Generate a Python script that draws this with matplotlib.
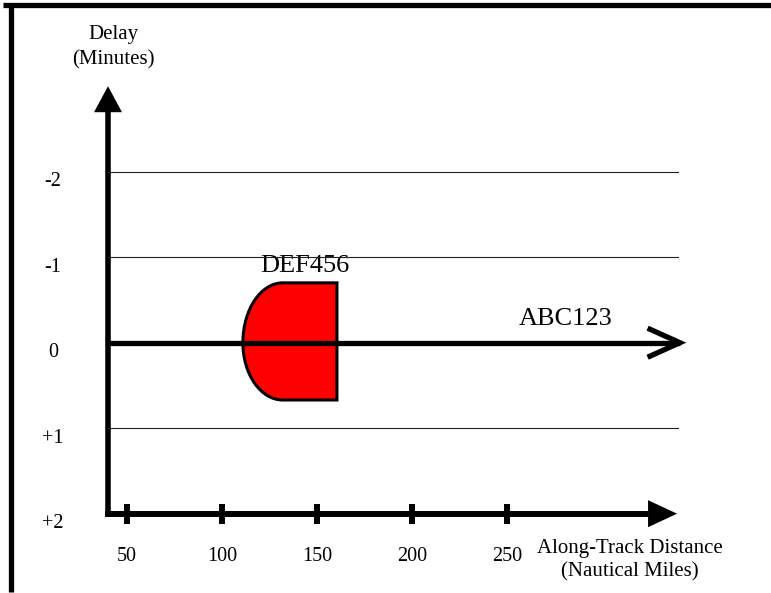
import matplotlib
matplotlib.use('Agg')
import matplotlib.pyplot as plt
from matplotlib.path import Path
from matplotlib.patches import PathPatch
from matplotlib.lines import Line2D

# ---- data ----
delay_ticks = [-2, -1, 0, 1, 2]
delay_labels = ['-2', '-1', '0', '+1', '+2']
grid_delays = [-2, -1, 1]
distance_ticks = [50, 100, 150, 200, 250]
distance_labels = ['50', '100', '150', '200', '250']

ownship = 'ABC123'
ownship_delay = 0

intruder = 'DEF456'
conflict_start = 111.0     # nm, leftmost point of the rounded edge
conflict_round = 132.0     # nm, where the rounded edge meets the flat top/bottom
conflict_end = 160.5       # nm
conflict_early = -0.70     # min
conflict_late = 0.67       # min

# ---- layout (pixel scale of the picture) ----
PX_NM = 1.9
PX_MIN = 85.5
X0_PX = 32.0
Y0_PX = 342.7
W, H = 771, 593

axis_nm = 40.0
axis_delay = 2.0
track_end = 341.0
xarrow_tip = 339.5
yarrow_tip = -3.0

plt.rcParams['font.family'] = ['Liberation Serif', 'DejaVu Serif']

fig = plt.figure(figsize=(W / 100, H / 100), dpi=100)
ax = fig.add_axes([0, 0, 1, 1])
ax.set_xlim(-X0_PX / PX_NM, (W - X0_PX) / PX_NM)
ax.set_ylim((H - Y0_PX) / PX_MIN, -Y0_PX / PX_MIN)
ax.axis('off')

# frame lines of the original figure (top and left only)
fig.add_artist(Line2D([3 / W, 1], [1 - 5 / H, 1 - 5 / H], color='k', lw=3.8,
                      transform=fig.transFigure, solid_capstyle='butt'))
fig.add_artist(Line2D([10.5 / W, 10.5 / W], [1 - 3 / H, 1 - 592 / H], color='k', lw=3.8,
                      transform=fig.transFigure, solid_capstyle='butt'))

# horizontal delay grid lines
for d in grid_delays:
    ax.plot([axis_nm, track_end - 1], [d, d], color='#222222', lw=0.8, zorder=5)

# conflict region (intruder)
k = 0.5523
rx = conflict_round - conflict_start
verts = [
    (conflict_end, conflict_early),
    (conflict_round, conflict_early),
    (conflict_round - k * rx, conflict_early),
    (conflict_start, k * conflict_early),
    (conflict_start, 0),
    (conflict_start, k * conflict_late),
    (conflict_round - k * rx, conflict_late),
    (conflict_round, conflict_late),
    (conflict_end, conflict_late),
    (conflict_end, conflict_early),
]
codes = [Path.MOVETO, Path.LINETO, Path.CURVE4, Path.CURVE4, Path.CURVE4,
         Path.CURVE4, Path.CURVE4, Path.CURVE4, Path.LINETO, Path.CLOSEPOLY]
ax.add_patch(PathPatch(Path(verts, codes), facecolor='#ff0000', edgecolor='k',
                       lw=2.2, zorder=2, joinstyle='miter'))

# ownship track with open arrow head
ax.plot([axis_nm, track_end], [ownship_delay, ownship_delay], color='k', lw=3.8,
        solid_capstyle='butt', zorder=3)
arm_nm = 17.0
arm_min = 0.17
ax.plot([track_end - arm_nm, track_end, track_end - arm_nm],
        [ownship_delay - arm_min, ownship_delay, ownship_delay + arm_min],
        color='k', lw=3.8, solid_capstyle='butt', solid_joinstyle='miter', zorder=3)

# y axis (delay) with filled head
yhead_len = 26 / PX_MIN
yhead_half = 14 / PX_NM
ax.plot([axis_nm, axis_nm], [axis_delay + 3 / PX_MIN, yarrow_tip + yhead_len],
        color='k', lw=4.0, solid_capstyle='butt', zorder=3)
ax.fill([axis_nm - yhead_half, axis_nm, axis_nm + yhead_half],
        [yarrow_tip + yhead_len, yarrow_tip, yarrow_tip + yhead_len],
        color='k', lw=0, zorder=3)

# x axis (distance) with filled head
xhead_len = 29 / PX_NM
xhead_half = 13.5 / PX_MIN
ax.plot([axis_nm - 3 / PX_NM, xarrow_tip - xhead_len], [axis_delay, axis_delay],
        color='k', lw=4.3, solid_capstyle='butt', zorder=3)
ax.fill([xarrow_tip - xhead_len, xarrow_tip, xarrow_tip - xhead_len],
        [axis_delay - xhead_half, axis_delay, axis_delay + xhead_half],
        color='k', lw=0, zorder=3)

# distance ticks
for t, lab in zip(distance_ticks, distance_labels):
    ax.plot([t, t], [axis_delay - 10 / PX_MIN, axis_delay + 10 / PX_MIN], color='k',
            lw=4.3, solid_capstyle='butt', zorder=3)
    ax.text(t, 2.50, lab, ha='center', va='center', fontsize=14.5)

# delay labels
for d, lab in zip(delay_ticks, delay_labels):
    ax.text(11, d + 0.12, lab, ha='center', va='center', fontsize=14.5)

# axis titles
ax.text(42.6, -3.6, 'Delay', ha='center', va='center', fontsize=15)
ax.text(42.6, -3.31, '(Minutes)', ha='center', va='center', fontsize=15)
ax.text(314.7, 2.41, 'Along-Track Distance', ha='center', va='center', fontsize=15)
ax.text(314.7, 2.68, '(Nautical Miles)', ha='center', va='center', fontsize=15)

# aircraft labels
ax.text(143.7, -0.90, intruder, ha='center', va='center', fontsize=19, zorder=4)
ax.text(281, -0.28, ownship, ha='center', va='center', fontsize=19, zorder=4)

fig.savefig('out.png', dpi=100)
